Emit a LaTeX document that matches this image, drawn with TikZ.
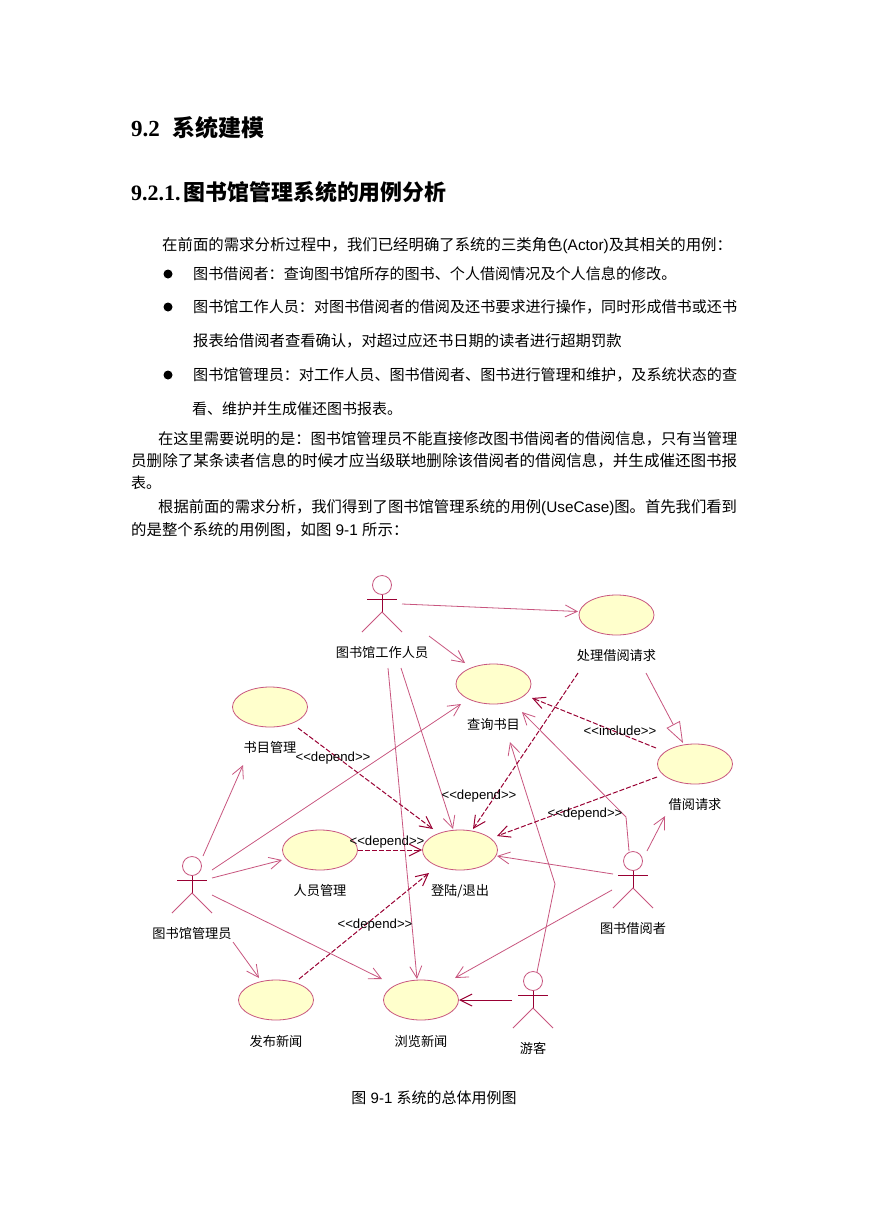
\documentclass[tikz,border=0pt]{standalone}
\usepackage{fontspec}
\usepackage{xcolor}
\usetikzlibrary{arrows.meta, positioning, shapes.geometric}
\setmainfont{Liberation Sans}
\newfontfamily\cjk{Noto Sans CJK SC}
\newfontfamily\headfont{Liberation Serif}
\definecolor{rosepink}{RGB}{200,86,127}
\definecolor{rosedark}{RGB}{153,0,51}
\definecolor{casefill}{RGB}{255,255,204}
\tikzset{
  bodyline/.style={anchor=west,inner sep=0pt,text height=13.2pt,text depth=1.8pt,
        font=\fontsize{#1}{18}\selectfont\cjk},
  bodyline/.default=15,
  headline/.style={anchor=west,inner sep=0pt,font=\bfseries\headfont},
  usecase/.style={draw=rosepink,fill=casefill,ellipse,inner sep=0pt,line width=.8pt,
        minimum width=75pt,minimum height=40pt},
  caselabel/.style={inner sep=0pt,text height=11.4pt,text depth=1.6pt,
        font=\fontsize{13.2}{15}\selectfont\cjk},
  stereo/.style={inner sep=0pt,font=\fontsize{13.2}{15}\selectfont},
  actorbox/.style={inner sep=0pt,minimum width=40pt,minimum height=56.5pt},
  dotmark/.style={circle,fill=black,inner sep=0pt,minimum size=9pt},
  assoc/.style={-{Straight Barb[length=12pt,width=12pt]},rosepink,line width=.8pt},
  depends/.style={-{Straight Barb[length=12pt,width=12pt]},rosedark,line width=1pt,
        dash pattern=on 5pt off 2pt},
  inherits/.style={-{Triangle[open,length=21pt,width=15pt,fill=white]},rosepink,line width=.8pt}
}
% #1 name, #2 x, #3 y of the head centre, #4 label
\newcommand{\actorfig}[4]{
  \node[actorbox] (#1) at (#2,#3+18.75) {};
  \draw[rosepink,line width=.8pt] (#2,#3) circle (9.5);
  \draw[rosedark,line width=.9pt] (#2,#3+9.5) -- (#2,#3+27) (#2-15,#3+14) -- (#2+15,#3+14);
  \draw[rosepink,line width=.8pt] (#2-20,#3+47) -- (#2,#3+27) -- (#2+20,#3+47);
  \node[caselabel,below=13.5pt of #1] (#1label) {#4};
}

\begin{document}
\begin{tikzpicture}[x=1pt,y=-1pt]
  \useasboundingbox[fill=white] (0,0) rectangle (869,1228);
  % page text
  \node[headline,font=\bfseries\fontsize{23}{26}\selectfont\headfont] (title) at (131,128)
        {9.2\hspace{13pt}{\bfseries\cjk 系统建模}};
  \node[headline,font=\bfseries\fontsize{22}{26}\selectfont\headfont] (subtitle) at (131,192)
        {9.2.1.\hspace{3pt}{\bfseries\fontsize{21.9}{26}\selectfont\cjk 图书馆管理系统的用例分析}};
  \node[bodyline=15.4] (line1) at (162,245)
        {在前面的需求分析过程中，我们已经明确了系统的三类角色{\rmfamily (Actor)}及其相关的用例：};
  \node[dotmark] (dot1) at (168,274) {};
  \node[bodyline=15.1] (line2) at (193,274) {图书借阅者：查询图书馆所存的图书、个人借阅情况及个人信息的修改。};
  \node[dotmark] (dot2) at (168,307) {};
  \node[bodyline=15.11] (line3) at (193,307) {图书馆工作人员：对图书借阅者的借阅及还书要求进行操作，同时形成借书或还书};
  \node[bodyline=15.3] (line4) at (193,341) {报表给借阅者查看确认，对超过应还书日期的读者进行超期罚款};
  \node[dotmark] (dot3) at (168,375) {};
  \node[bodyline=15.11] (line5) at (193,375) {图书馆管理员：对工作人员、图书借阅者、图书进行管理和维护，及系统状态的查};
  \node[bodyline] (line6) at (192,409) {看、维护并生成催还图书报表。};
  \node[bodyline=15.24] (line7) at (158,439) {在这里需要说明的是：图书馆管理员不能直接修改图书借阅者的借阅信息，只有当管理};
  \node[bodyline=15.54] (line8) at (131,461) {员删除了某条读者信息的时候才应当级联地删除该借阅者的借阅信息，并生成催还图书报};
  \node[bodyline] (line9) at (131,483) {表。};
  \node[bodyline=15.32] (line10) at (158,507)
        {根据前面的需求分析，我们得到了图书馆管理系统的用例{\rmfamily (UseCase)}图。首先我们看到};
  \node[bodyline=15.4] (line11) at (131,530) {的是整个系统的用例图，如图{\rmfamily\ 9-1 }所示：};
  % use cases
  \node[usecase] (handle) at (616.5,615) {};
  \node[usecase] (query) at (493.5,684) {};
  \node[usecase] (bookmgr) at (270,707) {};
  \node[usecase] (borrow) at (695,764) {};
  \node[usecase] (staffmgr) at (320,850) {};
  \node[usecase] (login) at (460,850) {};
  \node[usecase] (publish) at (276,1000) {};
  \node[usecase] (browse) at (421,1000) {};
  \node[caselabel,below=13pt of handle] (handlelabel) {处理借阅请求};
  \node[caselabel,below=13pt of query] (querylabel) {查询书目};
  \node[caselabel,below=13pt of bookmgr] (bookmgrlabel) {书目管理};
  \node[caselabel,below=13pt of borrow] (borrowlabel) {借阅请求};
  \node[caselabel,below=13pt of staffmgr] (staffmgrlabel) {人员管理};
  \node[caselabel,below=13pt of login] (loginlabel) {登陆/退出};
  \node[caselabel,below=14pt of publish] (publishlabel) {发布新闻};
  \node[caselabel,below=14pt of browse] (browselabel) {浏览新闻};
  % actors
  \actorfig{worker}{382}{585}{图书馆工作人员}
  \actorfig{admin}{192}{866}{图书馆管理员}
  \actorfig{reader}{633}{861}{图书借阅者}
  \actorfig{guest}{533}{981}{游客}
  % solid links
  \draw[assoc] ([shift={(20,0.25)}]worker.center) -- ([shift={(-38.5,-3.5)}]handle.center);
  \draw[assoc] ([shift={(47,32.25)}]worker.center) -- ([shift={(-28.5,-21)}]query.center);
  \draw[assoc] ([shift={(19,64.25)}]worker.center) -- ([shift={(-7,-21)}]login.center);
  \draw[assoc] ([shift={(6,64.25)}]worker.center) -- ([shift={(-4,-21)}]browse.center);
  \draw[assoc] ([shift={(11,-28.75)}]admin.center) -- ([shift={(-27,18)}]bookmgrlabel.center);
  \draw[assoc] ([shift={(20,-14.75)}]admin.center) -- ([shift={(-32.5,20)}]query.center);
  \draw[assoc] ([shift={(20,-6.75)}]admin.center) -- ([shift={(-38,10)}]staffmgr.center);
  \draw[assoc] ([shift={(41,57.25)}]admin.center) -- ([shift={(-17,-22)}]publish.center);
  \draw[assoc] ([shift={(20,10.25)}]admin.center) -- ([shift={(-39,-21)}]browse.center);
  \draw[assoc] ([shift={(14,-28.75)}]reader.center) -- ([shift={(-30,12)}]borrowlabel.center);
  \draw[assoc] ([shift={(-20,-5.75)}]reader.center) -- ([shift={(37,6)}]login.center);
  \draw[assoc] ([shift={(-21,10.25)}]reader.center) -- ([shift={(34,-22)}]browse.center);
  \draw[assoc] ([shift={(-4,-28.75)}]reader.center) -- (626,817) -- ([shift={(28.5,28)}]query.center);
  \draw[assoc] ([shift={(4,-27.75)}]guest.center) -- (555,884) -- ([shift={(16.5,58)}]query.center);
  \draw[assoc,rosedark,line width=1pt] ([shift={(-21,0.25)}]guest.center) -- ([shift={(38,0)}]browse.center);
  \draw[inherits] ([shift={(29.5,58)}]handle.center) -- ([shift={(-12,-21)}]borrow.center);
  % dashed links
  \draw[depends] ([shift={(-39,-16)}]borrow.center) -- ([shift={(38.5,14)}]query.center);
  \draw[depends] ([shift={(-38,13)}]borrow.center) -- ([shift={(37,-14)}]login.center);
  \draw[depends] ([shift={(-38.5,58)}]handle.center) -- ([shift={(13,-21)}]login.center);
  \draw[depends] ([shift={(28,21)}]bookmgr.center) -- ([shift={(-27,-21)}]login.center);
  \draw[depends] (staffmgr.east) -- (login.west);
  \draw[depends] ([shift={(23,-21)}]publish.center) -- ([shift={(-31,23)}]login.center);
  % stereotypes
  \node[stereo] (dep1) at (333,758.5) {<{}<depend>{}>};
  \node[stereo] (dep2) at (479,796.5) {<{}<depend>{}>};
  \node[stereo] (dep3) at (585,814.5) {<{}<depend>{}>};
  \node[stereo] (dep4) at (387,842.5) {<{}<depend>{}>};
  \node[stereo] (dep5) at (375,925.5) {<{}<depend>{}>};
  \node[stereo] (incl) at (620,730.5) {<{}<include>{}>};
  \node[inner sep=0pt,font=\fontsize{15}{17}\selectfont] (caption) at (434,1098)
        {{\cjk 图}\ 9-1\ {\cjk 系统的总体用例图}};
\end{tikzpicture}
\end{document}
